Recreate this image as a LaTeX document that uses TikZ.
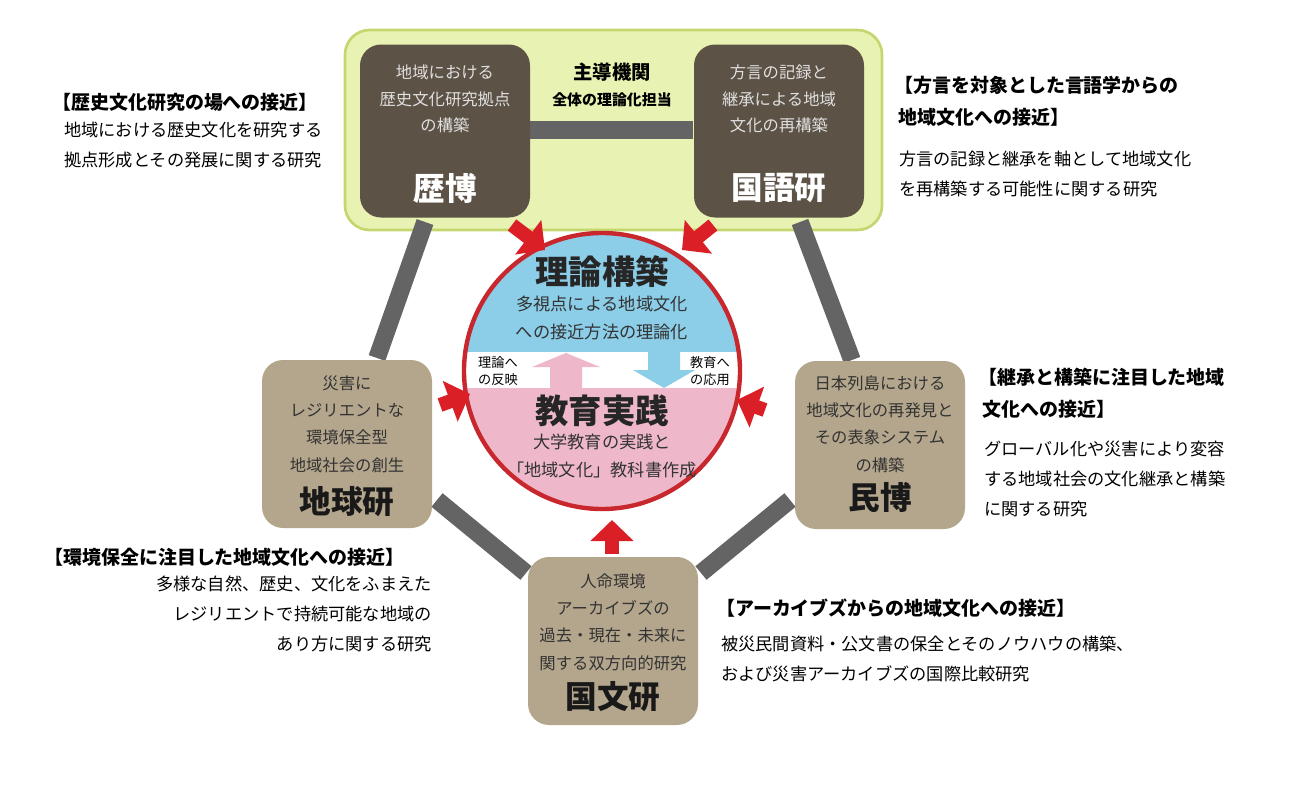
\documentclass[tikz,border=0pt]{standalone}
\usepackage{fontspec}
\setmainfont{Noto Sans CJK JP}
\usetikzlibrary{arrows.meta}
\definecolor{darkbox}{RGB}{92,82,70}
\definecolor{tanbox}{RGB}{180,166,140}
\definecolor{limefill}{RGB}{232,242,178}
\definecolor{limeline}{RGB}{196,214,110}
\definecolor{barcolor}{RGB}{100,100,100}
\definecolor{redarrow}{RGB}{218,32,38}
\definecolor{skyblue}{RGB}{140,205,232}
\definecolor{pinkfill}{RGB}{238,184,202}
\definecolor{ringred}{RGB}{200,40,45}
\tikzset{
    darkinst/.style={fill=darkbox, rounded corners=12pt, minimum width=170*0.02cm, minimum height=173*0.02cm},
    taninst/.style={fill=tanbox, rounded corners=12pt, minimum width=170*0.02cm, minimum height=168*0.02cm},
    link/.style={barcolor, line width=10pt},
    push/.style={redarrow, line width=8pt, -{Triangle[length=12pt,width=24pt]}},
    sidetext/.style={font=\fontsize{9.8}{17}\selectfont, align=left},
    sidehead/.style={font=\fontsize{10.8}{18}\selectfont\bfseries, align=left},
}
\begin{document}
\begin{tikzpicture}[x=0.02cm, y=-0.02cm]
    \useasboundingbox (0,0) rectangle (1300,791);

    % lead band
    \draw[limeline, fill=limefill, line width=1.5pt, rounded corners=14pt] (345,30) rectangle (882,230);

    % connecting bars
    \coordinate (rekiA) at (425,222);
    \coordinate (chiA) at (377,358);
    \coordinate (kokuA) at (800,222);
    \coordinate (minA) at (852,360);
    \coordinate (chiB) at (437,500);
    \coordinate (bunL) at (526,573);
    \coordinate (minB) at (790,500);
    \coordinate (bunR) at (701,573);
    \draw[link] (rekiA) -- (chiA);
    \draw[link] (kokuA) -- (minA);
    \draw[link] (chiB) -- (bunL);
    \draw[link] (minB) -- (bunR);
    \draw[link] (530,130) -- (693,130);

    % institutes
    \node[darkinst] (reki) at (445,131) {};
    \node[darkinst] (koku) at (779,131) {};
    \node[taninst] (chi) at (347,444) {};
    \node[taninst] (min) at (880,445) {};
    \node[taninst] (bun) at (613,641) {};

    \node[white!88!black, font=\fontsize{9.3}{15}\selectfont, align=center] (rekiT) at (445,99) {地域における\\歴史文化研究拠点\\の構築};
    \node[white, font=\fontsize{18}{20}\selectfont\bfseries] (rekiN) at (445,188) {歴博};
    \node[white!88!black, font=\fontsize{9.3}{15}\selectfont, align=center] (kokuT) at (779,99) {方言の記録と\\継承による地域\\文化の再構築};
    \node[white, font=\fontsize{18}{20}\selectfont\bfseries] (kokuN) at (779,188) {国語研};

    \node[black!80, font=\fontsize{9.3}{15.5}\selectfont, align=center] (chiT) at (347,424) {災害に\\レジリエントな\\環境保全型\\地域社会の創生};
    \node[black!90, font=\fontsize{18}{20}\selectfont\bfseries] (chiN) at (347,502) {地球研};
    \node[black!80, font=\fontsize{9.3}{15.5}\selectfont, align=center] (minT) at (880,424) {日本列島における\\地域文化の再発見と\\その表象システム\\の構築};
    \node[black!90, font=\fontsize{18}{20}\selectfont\bfseries] (minN) at (880,497) {民博};
    \node[black!80, font=\fontsize{9.3}{15.5}\selectfont, align=center] (bunT) at (613,622) {人命環境\\アーカイブズの\\過去・現在・未来に\\関する双方向的研究};
    \node[black!90, font=\fontsize{18}{20}\selectfont\bfseries] (bunN) at (613,697) {国文研};

    \node[font=\fontsize{11}{12}\selectfont\bfseries] (lead) at (612,72) {主導機関};
    \node[font=\fontsize{8.5}{10}\selectfont\bfseries] (leadSub) at (612,100) {全体の理論化担当};

    % centre circle
    \coordinate (core) at (602,371);
    \begin{scope}
        \clip (core) circle[radius=138];
        \fill[skyblue] (460,230) rectangle (745,352);
        \fill[white] (460,352) rectangle (745,388);
        \fill[pinkfill] (460,388) rectangle (745,515);
        \fill[pinkfill] (550,388) -- (550,367) -- (532,367) -- (566,353) -- (600,367) -- (582,367) -- (582,388) -- cycle;
        \fill[skyblue] (648,352) -- (648,370) -- (633,370) -- (664,388) -- (695,370) -- (680,370) -- (680,352) -- cycle;
    \end{scope}
    \draw[ringred, line width=2.5pt] (core) circle[radius=138];
    \node[font=\fontsize{19}{20}\selectfont\bfseries, black!85] (theory) at (602,272) {理論構築};
    \node[font=\fontsize{9.8}{15.5}\selectfont, black!80, align=center] (theoryT) at (602,318) {多視点による地域文化\\への接近方法の理論化};
    \node[font=\fontsize{19}{20}\selectfont\bfseries, black!85] (edu) at (602,411) {教育実践};
    \node[font=\fontsize{9.8}{15.5}\selectfont, black!80, align=center] (eduT) at (602,456) {大学教育の実践と\\「地域文化」教科書作成};
    \node[font=\fontsize{7.5}{10}\selectfont, align=left] (refl) at (498,371) {理論へ\\の反映};
    \node[font=\fontsize{7.5}{10}\selectfont, align=left] (appl) at (710,371) {教育へ\\の応用};

    % arrows into the circle
    \coordinate (inRk) at (545,250);
    \coordinate (inKk) at (682,250);
    \coordinate (inChi) at (470,394);
    \coordinate (inMin) at (737,400);
    \coordinate (inBun) at (612,520);
    \draw[push] (512,225) -- (inRk);
    \draw[push] (713,225) -- (inKk);
    \draw[push] (440,405) -- (inChi);
    \draw[push] (765,410) -- (inMin);
    \draw[push] (612,554) -- (inBun);

    % side notes
    \node[sidehead, anchor=west] (nRk) at (46,102) {【歴史文化研究の場への接近】};
    \node[sidetext, anchor=north west] (nRkT) at (58,116) {地域における歴史文化を研究する\\拠点形成とその発展に関する研究};
    \node[sidehead, anchor=north west] (nKk) at (888,70) {【方言を対象とした言語学からの\\\ 地域文化への接近】};
    \node[sidetext, anchor=north west] (nKkT) at (893,145) {方言の記録と継承を軸として地域文化\\を再構築する可能性に関する研究};
    \node[sidehead, anchor=north west] (nMin) at (972,362) {【継承と構築に注目した地域\\\ 文化への接近】};
    \node[sidetext, anchor=north west] (nMinT) at (978,435) {グローバル化や災害により変容\\する地域社会の文化継承と構築\\に関する研究};
    \node[sidehead, anchor=west] (nChi) at (38,557) {【環境保全に注目した地域文化への接近】};
    \node[sidetext, anchor=north east, align=right] (nChiT) at (438,570) {多様な自然、歴史、文化をふまえた\\レジリエントで持続可能な地域の\\あり方に関する研究};
    \node[sidehead, anchor=west] (nBun) at (710,608) {【アーカイブズからの地域文化への接近】};
    \node[sidetext, anchor=north west] (nBunT) at (715,630) {被災民間資料・公文書の保全とそのノウハウの構築、\\および災害アーカイブズの国際比較研究};
\end{tikzpicture}
\end{document}
